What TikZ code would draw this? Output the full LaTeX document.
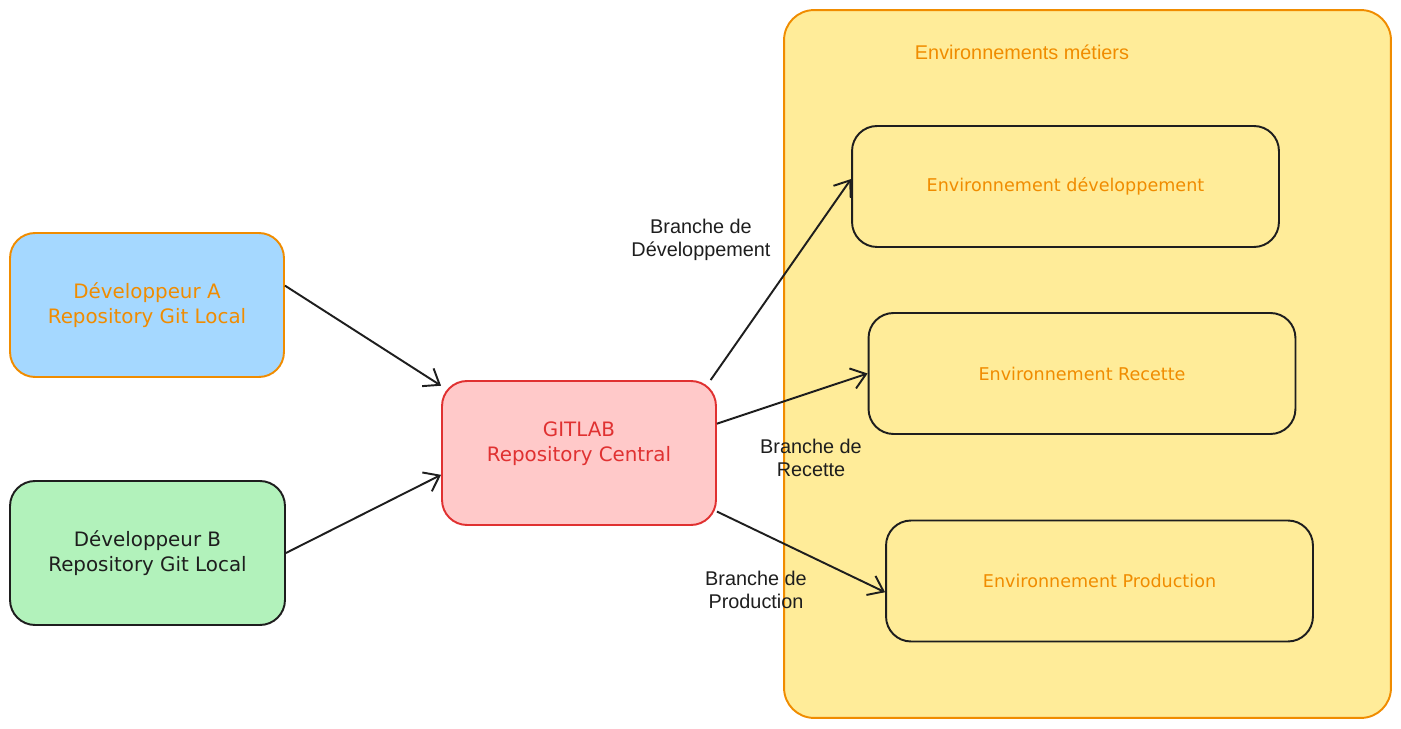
\documentclass[tikz,border=0pt]{standalone}
\usepackage{fontspec}
\setmainfont{Liberation Sans}
\newfontfamily\sketchfont{DejaVu Sans}
\usetikzlibrary{arrows.meta}
\definecolor{exorange}{HTML}{F08C00}
\definecolor{exblue}{HTML}{A5D8FF}
\definecolor{exgreen}{HTML}{B2F2BB}
\definecolor{exred}{HTML}{E03131}
\definecolor{expink}{HTML}{FFC9C9}
\definecolor{exyellow}{HTML}{FFEC99}
\definecolor{exdark}{HTML}{1E1E1E}
\tikzset{
  repobox/.style={draw, rounded corners=0.5cm, line width=1.1pt, align=center,
    font=\sketchfont\fontsize{11.3}{14.2}\selectfont, minimum height=2.88cm},
  envbox/.style={draw=exdark, rounded corners=0.5cm, line width=1.1pt,
    text=exorange, font=\sketchfont\fontsize{10}{13}\selectfont,
    minimum width=8.54cm, minimum height=2.42cm},
  branche/.style={align=center, text=exdark, font=\fontsize{11.3}{13}\selectfont},
  push/.style={-{Straight Barb[length=8pt,width=12pt]}, line width=1.1pt, draw=exdark}
}
\begin{document}
\begin{tikzpicture}[x=0.02cm,y=-0.02cm]
\useasboundingbox (0,0) rectangle (1401,729);
% environnements
\node[draw=exorange, fill=exyellow, rounded corners=0.6cm, line width=1.1pt,
  minimum width=12.14cm, minimum height=14.16cm] (metiers) at (1087.5,364) {};
\node[text=exorange, font=\fontsize{11.3}{13}\selectfont] (titre) at (1022,52) {Environnements métiers};
\node[envbox] (envdev) at (1065.5,186.5) {Environnement développement};
\node[envbox] (recette) at (1082,373.5) {Environnement Recette};
\node[envbox] (prod) at (1099.5,581) {Environnement Production};
% repositories
\node[repobox, draw=exorange, fill=exblue, text=exorange, minimum width=5.48cm] (devA) at (147,305) {Développeur A\\Repository Git Local};
\node[repobox, draw=exdark, fill=exgreen, text=exdark, minimum width=5.5cm] (devB) at (147.5,553) {Développeur B\\Repository Git Local};
\node[repobox, draw=exred, fill=expink, text=exred, minimum width=5.48cm] (gitlab) at (579,453) {GITLAB\\Repository Central\\[-0.05cm]};
% fleches
\draw[push] (devA.8) -- (gitlab.154);
\draw[push] (devB.east) -- (gitlab.189);
\draw[push] (gitlab.29) -- (envdev.178);
\draw[push] (gitlab.12) -- (recette.west);
\draw[push] (gitlab.-23) -- (prod.183);
\node[branche] (bdev) at (701,240) {Branche de\\Développement};
\node[branche] (brec) at (811,458) {Branche de\\Recette};
\node[branche] (bprod) at (756,590) {Branche de\\Production};
\end{tikzpicture}
\end{document}
